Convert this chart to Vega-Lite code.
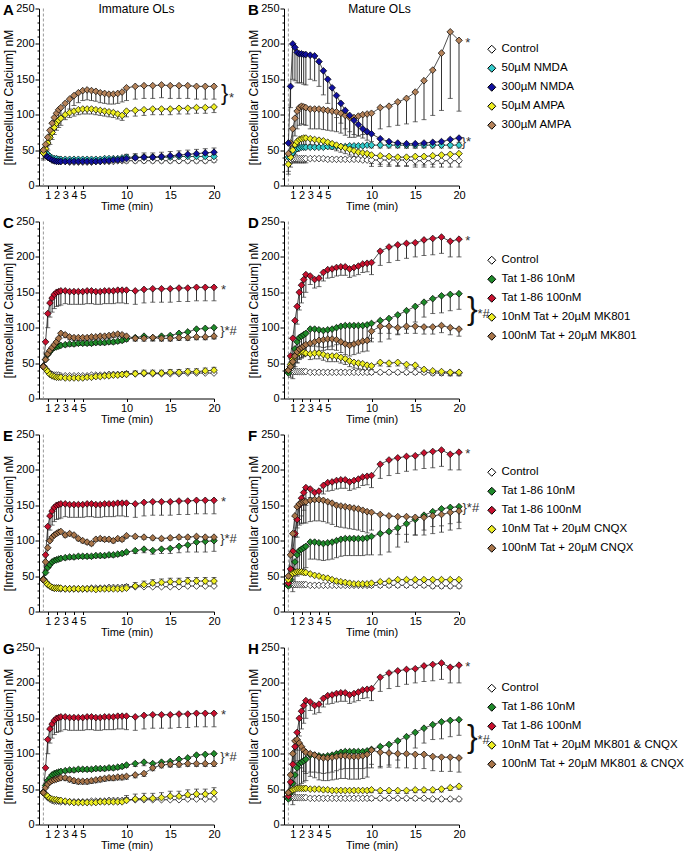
{
"$schema":"https://vega.github.io/schema/vega-lite/v6.json",
"background":"white",
"padding":{"left":2,"top":2.5,"right":5,"bottom":5},
"config":{
 "font":"Liberation Sans",
 "view":{"stroke":null},
 "axis":{"grid":false,"domainColor":"#000","tickColor":"#000","labelColor":"#000","titleColor":"#000","labelFontSize":11,"titleFontSize":12,"titleFontWeight":"normal","labelFont":"Liberation Sans","titleFont":"Liberation Sans","labelOverlap":false,"domainWidth":1,"tickWidth":1},
 "title":{"anchor":"start","frame":"group","fontSize":15,"fontWeight":"bold","color":"#000","dx":-36,"offset":-15,"font":"Liberation Sans"}
},
"datasets":{
"names":[{"s":"c","n":"Control"},{"s":"n1","n":"50µM NMDA"},{"s":"n3","n":"300µM NMDA"},{"s":"a5","n":"50µM AMPA"},{"s":"a3","n":"300µM AMPA"},{"s":"g","n":"Tat 1-86 10nM"},{"s":"r","n":"Tat 1-86 100nM"},{"s":"y2","n":"10nM Tat + 20µM MK801"},{"s":"b2","n":"100nM Tat + 20µM MK801"},{"s":"y3","n":"10nM Tat + 20µM CNQX"},{"s":"b3","n":"100nM Tat + 20µM CNQX"},{"s":"y4","n":"10nM Tat + 20µM MK801 & CNQX"},{"s":"b4","n":"100nM Tat + 20µM MK801 & CNQX"}],
"d":[
{"g":"A","s":"c","t":0.5,"y":48},{"g":"A","s":"c","t":0.75,"y":44},{"g":"A","s":"c","t":1,"y":40},{"g":"A","s":"c","t":1.25,"y":38},{"g":"A","s":"c","t":1.5,"y":36},{"g":"A","s":"c","t":1.75,"y":35},{"g":"A","s":"c","t":2,"y":35},{"g":"A","s":"c","t":2.25,"y":34},{"g":"A","s":"c","t":2.5,"y":34},{"g":"A","s":"c","t":3,"y":34},{"g":"A","s":"c","t":3.5,"y":33},{"g":"A","s":"c","t":4,"y":33},{"g":"A","s":"c","t":4.5,"y":33},{"g":"A","s":"c","t":5,"y":33},{"g":"A","s":"c","t":5.5,"y":33},{"g":"A","s":"c","t":6,"y":33},{"g":"A","s":"c","t":6.5,"y":34},{"g":"A","s":"c","t":7,"y":34},{"g":"A","s":"c","t":7.5,"y":34},{"g":"A","s":"c","t":8,"y":34},{"g":"A","s":"c","t":8.5,"y":34},{"g":"A","s":"c","t":9,"y":35},{"g":"A","s":"c","t":9.5,"y":35},{"g":"A","s":"c","t":10,"y":35,"e":32},{"g":"A","s":"c","t":11,"y":35,"e":32},{"g":"A","s":"c","t":12,"y":35,"e":32},{"g":"A","s":"c","t":13,"y":35,"e":32},{"g":"A","s":"c","t":14,"y":35,"e":32},{"g":"A","s":"c","t":15,"y":35,"e":32},{"g":"A","s":"c","t":16,"y":35,"e":32},{"g":"A","s":"c","t":17,"y":35,"e":32},{"g":"A","s":"c","t":18,"y":35,"e":32},{"g":"A","s":"c","t":19,"y":35,"e":32},{"g":"A","s":"c","t":20,"y":36,"e":33},
{"g":"A","s":"n1","t":0.5,"y":50},{"g":"A","s":"n1","t":0.75,"y":47},{"g":"A","s":"n1","t":1,"y":44},{"g":"A","s":"n1","t":1.25,"y":41},{"g":"A","s":"n1","t":1.5,"y":39},{"g":"A","s":"n1","t":1.75,"y":38},{"g":"A","s":"n1","t":2,"y":38},{"g":"A","s":"n1","t":2.25,"y":37},{"g":"A","s":"n1","t":2.5,"y":37},{"g":"A","s":"n1","t":3,"y":37},{"g":"A","s":"n1","t":3.5,"y":37},{"g":"A","s":"n1","t":4,"y":37},{"g":"A","s":"n1","t":4.5,"y":37},{"g":"A","s":"n1","t":5,"y":37},{"g":"A","s":"n1","t":5.5,"y":37},{"g":"A","s":"n1","t":6,"y":37},{"g":"A","s":"n1","t":6.5,"y":37},{"g":"A","s":"n1","t":7,"y":37},{"g":"A","s":"n1","t":7.5,"y":38},{"g":"A","s":"n1","t":8,"y":38},{"g":"A","s":"n1","t":8.5,"y":38},{"g":"A","s":"n1","t":9,"y":38},{"g":"A","s":"n1","t":9.5,"y":39},{"g":"A","s":"n1","t":10,"y":40,"e":43},{"g":"A","s":"n1","t":11,"y":40,"e":43},{"g":"A","s":"n1","t":12,"y":40,"e":43},{"g":"A","s":"n1","t":13,"y":40,"e":43},{"g":"A","s":"n1","t":14,"y":40,"e":43},{"g":"A","s":"n1","t":15,"y":40,"e":43},{"g":"A","s":"n1","t":16,"y":41,"e":44},{"g":"A","s":"n1","t":17,"y":41,"e":44},{"g":"A","s":"n1","t":18,"y":41,"e":44},{"g":"A","s":"n1","t":19,"y":41,"e":44},{"g":"A","s":"n1","t":20,"y":41,"e":44},
{"g":"A","s":"n3","t":0.5,"y":46},{"g":"A","s":"n3","t":0.75,"y":43},{"g":"A","s":"n3","t":1,"y":40},{"g":"A","s":"n3","t":1.25,"y":38},{"g":"A","s":"n3","t":1.5,"y":36},{"g":"A","s":"n3","t":1.75,"y":35},{"g":"A","s":"n3","t":2,"y":34},{"g":"A","s":"n3","t":2.25,"y":34},{"g":"A","s":"n3","t":2.5,"y":34},{"g":"A","s":"n3","t":3,"y":34,"e":37},{"g":"A","s":"n3","t":3.5,"y":34,"e":37},{"g":"A","s":"n3","t":4,"y":34,"e":37},{"g":"A","s":"n3","t":4.5,"y":34,"e":37},{"g":"A","s":"n3","t":5,"y":34,"e":37},{"g":"A","s":"n3","t":5.5,"y":34,"e":37},{"g":"A","s":"n3","t":6,"y":34,"e":37},{"g":"A","s":"n3","t":6.5,"y":34,"e":37},{"g":"A","s":"n3","t":7,"y":34,"e":37},{"g":"A","s":"n3","t":7.5,"y":35,"e":38},{"g":"A","s":"n3","t":8,"y":35,"e":38},{"g":"A","s":"n3","t":8.5,"y":36,"e":39},{"g":"A","s":"n3","t":9,"y":36,"e":39},{"g":"A","s":"n3","t":9.5,"y":37,"e":40},{"g":"A","s":"n3","t":10,"y":38,"e":44},{"g":"A","s":"n3","t":11,"y":39,"e":45},{"g":"A","s":"n3","t":12,"y":40,"e":46},{"g":"A","s":"n3","t":13,"y":40,"e":46},{"g":"A","s":"n3","t":14,"y":41,"e":47},{"g":"A","s":"n3","t":15,"y":42,"e":48},{"g":"A","s":"n3","t":16,"y":43,"e":49},{"g":"A","s":"n3","t":17,"y":44,"e":50},{"g":"A","s":"n3","t":18,"y":45,"e":51},{"g":"A","s":"n3","t":19,"y":46,"e":52},{"g":"A","s":"n3","t":20,"y":47,"e":53},
{"g":"A","s":"a5","t":0.5,"y":46,"e":36},{"g":"A","s":"a5","t":0.75,"y":52,"e":42},{"g":"A","s":"a5","t":1,"y":60,"e":50},{"g":"A","s":"a5","t":1.25,"y":68,"e":58},{"g":"A","s":"a5","t":1.5,"y":75,"e":65},{"g":"A","s":"a5","t":1.75,"y":82,"e":72},{"g":"A","s":"a5","t":2,"y":88,"e":78},{"g":"A","s":"a5","t":2.25,"y":92,"e":82},{"g":"A","s":"a5","t":2.5,"y":95,"e":85},{"g":"A","s":"a5","t":3,"y":100,"e":93},{"g":"A","s":"a5","t":3.5,"y":103,"e":96},{"g":"A","s":"a5","t":4,"y":105,"e":98},{"g":"A","s":"a5","t":4.5,"y":107,"e":100},{"g":"A","s":"a5","t":5,"y":108,"e":101},{"g":"A","s":"a5","t":5.5,"y":108,"e":101},{"g":"A","s":"a5","t":6,"y":108,"e":101},{"g":"A","s":"a5","t":6.5,"y":107,"e":100},{"g":"A","s":"a5","t":7,"y":106,"e":99},{"g":"A","s":"a5","t":7.5,"y":105,"e":98},{"g":"A","s":"a5","t":8,"y":104,"e":97},{"g":"A","s":"a5","t":8.5,"y":103,"e":96},{"g":"A","s":"a5","t":9,"y":101,"e":94},{"g":"A","s":"a5","t":9.5,"y":99,"e":92},{"g":"A","s":"a5","t":10,"y":105,"e":97},{"g":"A","s":"a5","t":11,"y":106,"e":98},{"g":"A","s":"a5","t":12,"y":107,"e":99},{"g":"A","s":"a5","t":13,"y":108,"e":100},{"g":"A","s":"a5","t":14,"y":108,"e":100},{"g":"A","s":"a5","t":15,"y":108,"e":100},{"g":"A","s":"a5","t":16,"y":109,"e":101},{"g":"A","s":"a5","t":17,"y":109,"e":101},{"g":"A","s":"a5","t":18,"y":110,"e":102},{"g":"A","s":"a5","t":19,"y":110,"e":102},{"g":"A","s":"a5","t":20,"y":111,"e":103},
{"g":"A","s":"a3","t":0.5,"y":50,"e":38},{"g":"A","s":"a3","t":0.75,"y":58,"e":46},{"g":"A","s":"a3","t":1,"y":68,"e":56},{"g":"A","s":"a3","t":1.25,"y":78,"e":66},{"g":"A","s":"a3","t":1.5,"y":88,"e":76},{"g":"A","s":"a3","t":1.75,"y":96,"e":84},{"g":"A","s":"a3","t":2,"y":102,"e":90},{"g":"A","s":"a3","t":2.25,"y":107,"e":95},{"g":"A","s":"a3","t":2.5,"y":110,"e":98},{"g":"A","s":"a3","t":3,"y":116,"e":102},{"g":"A","s":"a3","t":3.5,"y":122,"e":108},{"g":"A","s":"a3","t":4,"y":127,"e":113},{"g":"A","s":"a3","t":4.5,"y":131,"e":117},{"g":"A","s":"a3","t":5,"y":134,"e":120},{"g":"A","s":"a3","t":5.5,"y":135,"e":121},{"g":"A","s":"a3","t":6,"y":134,"e":120},{"g":"A","s":"a3","t":6.5,"y":133,"e":119},{"g":"A","s":"a3","t":7,"y":131,"e":117},{"g":"A","s":"a3","t":7.5,"y":130,"e":116},{"g":"A","s":"a3","t":8,"y":129,"e":115},{"g":"A","s":"a3","t":8.5,"y":129,"e":115},{"g":"A","s":"a3","t":9,"y":130,"e":116},{"g":"A","s":"a3","t":9.5,"y":132,"e":118},{"g":"A","s":"a3","t":10,"y":138,"e":120},{"g":"A","s":"a3","t":11,"y":140,"e":122},{"g":"A","s":"a3","t":12,"y":141,"e":123},{"g":"A","s":"a3","t":13,"y":141,"e":123},{"g":"A","s":"a3","t":14,"y":142,"e":124},{"g":"A","s":"a3","t":15,"y":141,"e":123},{"g":"A","s":"a3","t":16,"y":141,"e":123},{"g":"A","s":"a3","t":17,"y":141,"e":123},{"g":"A","s":"a3","t":18,"y":140,"e":122},{"g":"A","s":"a3","t":19,"y":140,"e":122},{"g":"A","s":"a3","t":20,"y":140,"e":122},
{"g":"B","s":"c","t":0.5,"y":36,"e":30},{"g":"B","s":"c","t":0.75,"y":37,"e":31},{"g":"B","s":"c","t":1,"y":38,"e":32},{"g":"B","s":"c","t":1.25,"y":38,"e":32},{"g":"B","s":"c","t":1.5,"y":38,"e":32},{"g":"B","s":"c","t":1.75,"y":38,"e":32},{"g":"B","s":"c","t":2,"y":38,"e":32},{"g":"B","s":"c","t":2.25,"y":38,"e":32},{"g":"B","s":"c","t":2.5,"y":38,"e":32},{"g":"B","s":"c","t":3,"y":38},{"g":"B","s":"c","t":3.5,"y":38},{"g":"B","s":"c","t":4,"y":38},{"g":"B","s":"c","t":4.5,"y":38},{"g":"B","s":"c","t":5,"y":37},{"g":"B","s":"c","t":5.5,"y":37},{"g":"B","s":"c","t":6,"y":37},{"g":"B","s":"c","t":6.5,"y":37},{"g":"B","s":"c","t":7,"y":37},{"g":"B","s":"c","t":7.5,"y":37},{"g":"B","s":"c","t":8,"y":37},{"g":"B","s":"c","t":8.5,"y":37},{"g":"B","s":"c","t":9,"y":36},{"g":"B","s":"c","t":9.5,"y":36},{"g":"B","s":"c","t":10,"y":36,"e":27},{"g":"B","s":"c","t":11,"y":36,"e":27},{"g":"B","s":"c","t":12,"y":36,"e":27},{"g":"B","s":"c","t":13,"y":36,"e":27},{"g":"B","s":"c","t":14,"y":36,"e":27},{"g":"B","s":"c","t":15,"y":35,"e":26},{"g":"B","s":"c","t":16,"y":35,"e":26},{"g":"B","s":"c","t":17,"y":35,"e":26},{"g":"B","s":"c","t":18,"y":35,"e":26},{"g":"B","s":"c","t":19,"y":35,"e":26},{"g":"B","s":"c","t":20,"y":35,"e":26},
{"g":"B","s":"n1","t":0.5,"y":40},{"g":"B","s":"n1","t":0.75,"y":42},{"g":"B","s":"n1","t":1,"y":46},{"g":"B","s":"n1","t":1.25,"y":50},{"g":"B","s":"n1","t":1.5,"y":52},{"g":"B","s":"n1","t":1.75,"y":53},{"g":"B","s":"n1","t":2,"y":54},{"g":"B","s":"n1","t":2.25,"y":54},{"g":"B","s":"n1","t":2.5,"y":54},{"g":"B","s":"n1","t":3,"y":54},{"g":"B","s":"n1","t":3.5,"y":54},{"g":"B","s":"n1","t":4,"y":54},{"g":"B","s":"n1","t":4.5,"y":54},{"g":"B","s":"n1","t":5,"y":55},{"g":"B","s":"n1","t":5.5,"y":55},{"g":"B","s":"n1","t":6,"y":55},{"g":"B","s":"n1","t":6.5,"y":55},{"g":"B","s":"n1","t":7,"y":55},{"g":"B","s":"n1","t":7.5,"y":56},{"g":"B","s":"n1","t":8,"y":56},{"g":"B","s":"n1","t":8.5,"y":56},{"g":"B","s":"n1","t":9,"y":56},{"g":"B","s":"n1","t":9.5,"y":57},{"g":"B","s":"n1","t":10,"y":57,"e":53},{"g":"B","s":"n1","t":11,"y":57,"e":53},{"g":"B","s":"n1","t":12,"y":57,"e":53},{"g":"B","s":"n1","t":13,"y":57,"e":53},{"g":"B","s":"n1","t":14,"y":57,"e":53},{"g":"B","s":"n1","t":15,"y":57,"e":53},{"g":"B","s":"n1","t":16,"y":57,"e":53},{"g":"B","s":"n1","t":17,"y":57,"e":53},{"g":"B","s":"n1","t":18,"y":57,"e":53},{"g":"B","s":"n1","t":19,"y":57,"e":53},{"g":"B","s":"n1","t":20,"y":57,"e":53},
{"g":"B","s":"a5","t":0.5,"y":30,"e":16},{"g":"B","s":"a5","t":0.75,"y":40,"e":26},{"g":"B","s":"a5","t":1,"y":50,"e":36},{"g":"B","s":"a5","t":1.25,"y":58,"e":44},{"g":"B","s":"a5","t":1.5,"y":62,"e":48},{"g":"B","s":"a5","t":1.75,"y":65,"e":51},{"g":"B","s":"a5","t":2,"y":66,"e":52},{"g":"B","s":"a5","t":2.25,"y":67,"e":53},{"g":"B","s":"a5","t":2.5,"y":67,"e":53},{"g":"B","s":"a5","t":3,"y":66,"e":58},{"g":"B","s":"a5","t":3.5,"y":65,"e":57},{"g":"B","s":"a5","t":4,"y":64,"e":56},{"g":"B","s":"a5","t":4.5,"y":63,"e":55},{"g":"B","s":"a5","t":5,"y":61,"e":53},{"g":"B","s":"a5","t":5.5,"y":59,"e":51},{"g":"B","s":"a5","t":6,"y":57,"e":49},{"g":"B","s":"a5","t":6.5,"y":55,"e":47},{"g":"B","s":"a5","t":7,"y":53,"e":45},{"g":"B","s":"a5","t":7.5,"y":51,"e":43},{"g":"B","s":"a5","t":8,"y":49,"e":41},{"g":"B","s":"a5","t":8.5,"y":47,"e":39},{"g":"B","s":"a5","t":9,"y":46,"e":38},{"g":"B","s":"a5","t":9.5,"y":45,"e":37},{"g":"B","s":"a5","t":10,"y":43,"e":31},{"g":"B","s":"a5","t":11,"y":42,"e":30},{"g":"B","s":"a5","t":12,"y":41,"e":29},{"g":"B","s":"a5","t":13,"y":40,"e":28},{"g":"B","s":"a5","t":14,"y":40,"e":28},{"g":"B","s":"a5","t":15,"y":41,"e":29},{"g":"B","s":"a5","t":16,"y":41,"e":29},{"g":"B","s":"a5","t":17,"y":42,"e":30},{"g":"B","s":"a5","t":18,"y":43,"e":31},{"g":"B","s":"a5","t":19,"y":44,"e":32},{"g":"B","s":"a5","t":20,"y":45,"e":33},
{"g":"B","s":"a3","t":0.5,"y":45,"e":20},{"g":"B","s":"a3","t":0.75,"y":60,"e":35},{"g":"B","s":"a3","t":1,"y":80,"e":55},{"g":"B","s":"a3","t":1.25,"y":95,"e":70},{"g":"B","s":"a3","t":1.5,"y":105,"e":80},{"g":"B","s":"a3","t":1.75,"y":110,"e":85},{"g":"B","s":"a3","t":2,"y":112,"e":87},{"g":"B","s":"a3","t":2.25,"y":111,"e":86},{"g":"B","s":"a3","t":2.5,"y":110,"e":85},{"g":"B","s":"a3","t":3,"y":108,"e":80},{"g":"B","s":"a3","t":3.5,"y":108,"e":80},{"g":"B","s":"a3","t":4,"y":108,"e":80},{"g":"B","s":"a3","t":4.5,"y":107,"e":79},{"g":"B","s":"a3","t":5,"y":106,"e":78},{"g":"B","s":"a3","t":5.5,"y":105,"e":77},{"g":"B","s":"a3","t":6,"y":104,"e":76},{"g":"B","s":"a3","t":6.5,"y":102,"e":74},{"g":"B","s":"a3","t":7,"y":99,"e":71},{"g":"B","s":"a3","t":7.5,"y":96,"e":68},{"g":"B","s":"a3","t":8,"y":96,"e":68},{"g":"B","s":"a3","t":8.5,"y":98,"e":70},{"g":"B","s":"a3","t":9,"y":100,"e":72},{"g":"B","s":"a3","t":9.5,"y":101,"e":73},{"g":"B","s":"a3","t":10,"y":102,"e":72},{"g":"B","s":"a3","t":11,"y":110,"e":80},{"g":"B","s":"a3","t":12,"y":112,"e":83},{"g":"B","s":"a3","t":13,"y":118,"e":85},{"g":"B","s":"a3","t":14,"y":123,"e":87},{"g":"B","s":"a3","t":15,"y":132,"e":90},{"g":"B","s":"a3","t":16,"y":148,"e":93},{"g":"B","s":"a3","t":17,"y":163,"e":99},{"g":"B","s":"a3","t":18,"y":187,"e":106},{"g":"B","s":"a3","t":19,"y":217,"e":123},{"g":"B","s":"a3","t":20,"y":205,"e":105},
{"g":"B","s":"n3","t":0.5,"y":60},{"g":"B","s":"n3","t":0.75,"y":140,"e":110},{"g":"B","s":"n3","t":1,"y":200,"e":150},{"g":"B","s":"n3","t":1.25,"y":195,"e":148},{"g":"B","s":"n3","t":1.5,"y":188,"e":145},{"g":"B","s":"n3","t":1.75,"y":186,"e":145},{"g":"B","s":"n3","t":2,"y":186,"e":145},{"g":"B","s":"n3","t":2.25,"y":185,"e":143},{"g":"B","s":"n3","t":2.5,"y":185,"e":142},{"g":"B","s":"n3","t":3,"y":184,"e":150},{"g":"B","s":"n3","t":3.5,"y":183,"e":148},{"g":"B","s":"n3","t":4,"y":175,"e":140},{"g":"B","s":"n3","t":4.5,"y":162,"e":128},{"g":"B","s":"n3","t":5,"y":150,"e":116},{"g":"B","s":"n3","t":5.5,"y":138,"e":105},{"g":"B","s":"n3","t":6,"y":127,"e":96},{"g":"B","s":"n3","t":6.5,"y":116,"e":88},{"g":"B","s":"n3","t":7,"y":106,"e":80},{"g":"B","s":"n3","t":7.5,"y":99,"e":76},{"g":"B","s":"n3","t":8,"y":92,"e":72},{"g":"B","s":"n3","t":8.5,"y":86,"e":70},{"g":"B","s":"n3","t":9,"y":80,"e":67},{"g":"B","s":"n3","t":9.5,"y":76,"e":64},{"g":"B","s":"n3","t":10,"y":73,"e":62},{"g":"B","s":"n3","t":11,"y":66,"e":60},{"g":"B","s":"n3","t":12,"y":62,"e":56},{"g":"B","s":"n3","t":13,"y":60,"e":54},{"g":"B","s":"n3","t":14,"y":59,"e":53},{"g":"B","s":"n3","t":15,"y":59,"e":53},{"g":"B","s":"n3","t":16,"y":60,"e":54},{"g":"B","s":"n3","t":17,"y":61,"e":55},{"g":"B","s":"n3","t":18,"y":62,"e":56},{"g":"B","s":"n3","t":19,"y":65,"e":59},{"g":"B","s":"n3","t":20,"y":67,"e":61},
{"g":"L","s":"c","t":0.5,"y":46},{"g":"L","s":"c","t":0.75,"y":42},{"g":"L","s":"c","t":1,"y":38},{"g":"L","s":"c","t":1.25,"y":36},{"g":"L","s":"c","t":1.5,"y":34},{"g":"L","s":"c","t":1.75,"y":33},{"g":"L","s":"c","t":2,"y":33},{"g":"L","s":"c","t":2.25,"y":33},{"g":"L","s":"c","t":2.5,"y":32},{"g":"L","s":"c","t":3,"y":32},{"g":"L","s":"c","t":3.5,"y":32},{"g":"L","s":"c","t":4,"y":32},{"g":"L","s":"c","t":4.5,"y":32},{"g":"L","s":"c","t":5,"y":32},{"g":"L","s":"c","t":5.5,"y":32},{"g":"L","s":"c","t":6,"y":33},{"g":"L","s":"c","t":6.5,"y":33},{"g":"L","s":"c","t":7,"y":33},{"g":"L","s":"c","t":7.5,"y":33},{"g":"L","s":"c","t":8,"y":34},{"g":"L","s":"c","t":8.5,"y":34},{"g":"L","s":"c","t":9,"y":34},{"g":"L","s":"c","t":9.5,"y":34},{"g":"L","s":"c","t":10,"y":35,"e":38},{"g":"L","s":"c","t":11,"y":35,"e":38},{"g":"L","s":"c","t":12,"y":35,"e":38},{"g":"L","s":"c","t":13,"y":35,"e":38},{"g":"L","s":"c","t":14,"y":35,"e":38},{"g":"L","s":"c","t":15,"y":35,"e":38},{"g":"L","s":"c","t":16,"y":35,"e":38},{"g":"L","s":"c","t":17,"y":36,"e":39},{"g":"L","s":"c","t":18,"y":36,"e":39},{"g":"L","s":"c","t":19,"y":36,"e":39},{"g":"L","s":"c","t":20,"y":36,"e":39},
{"g":"L","s":"g","t":0.5,"y":45},{"g":"L","s":"g","t":0.75,"y":55},{"g":"L","s":"g","t":1,"y":62},{"g":"L","s":"g","t":1.25,"y":66},{"g":"L","s":"g","t":1.5,"y":70},{"g":"L","s":"g","t":1.75,"y":72},{"g":"L","s":"g","t":2,"y":73},{"g":"L","s":"g","t":2.25,"y":74},{"g":"L","s":"g","t":2.5,"y":75},{"g":"L","s":"g","t":3,"y":76,"e":73},{"g":"L","s":"g","t":3.5,"y":77,"e":74},{"g":"L","s":"g","t":4,"y":77,"e":74},{"g":"L","s":"g","t":4.5,"y":78,"e":75},{"g":"L","s":"g","t":5,"y":78,"e":75},{"g":"L","s":"g","t":5.5,"y":78,"e":75},{"g":"L","s":"g","t":6,"y":78,"e":75},{"g":"L","s":"g","t":6.5,"y":79,"e":76},{"g":"L","s":"g","t":7,"y":79,"e":76},{"g":"L","s":"g","t":7.5,"y":79,"e":76},{"g":"L","s":"g","t":8,"y":80,"e":77},{"g":"L","s":"g","t":8.5,"y":80,"e":77},{"g":"L","s":"g","t":9,"y":81,"e":78},{"g":"L","s":"g","t":9.5,"y":82,"e":79},{"g":"L","s":"g","t":10,"y":84,"e":81},{"g":"L","s":"g","t":11,"y":86,"e":82},{"g":"L","s":"g","t":12,"y":88,"e":83},{"g":"L","s":"g","t":13,"y":86,"e":81},{"g":"L","s":"g","t":14,"y":88,"e":82},{"g":"L","s":"g","t":15,"y":89,"e":82},{"g":"L","s":"g","t":16,"y":92,"e":83},{"g":"L","s":"g","t":17,"y":94,"e":84},{"g":"L","s":"g","t":18,"y":98,"e":84},{"g":"L","s":"g","t":19,"y":99,"e":84},{"g":"L","s":"g","t":20,"y":100,"e":85},
{"g":"L","s":"r","t":0.5,"y":45},{"g":"L","s":"r","t":0.75,"y":80},{"g":"L","s":"r","t":1,"y":120,"e":100},{"g":"L","s":"r","t":1.25,"y":135,"e":115},{"g":"L","s":"r","t":1.5,"y":142,"e":122},{"g":"L","s":"r","t":1.75,"y":147,"e":127},{"g":"L","s":"r","t":2,"y":150,"e":130},{"g":"L","s":"r","t":2.25,"y":151,"e":131},{"g":"L","s":"r","t":2.5,"y":152,"e":132},{"g":"L","s":"r","t":3,"y":152,"e":134},{"g":"L","s":"r","t":3.5,"y":151,"e":133},{"g":"L","s":"r","t":4,"y":151,"e":133},{"g":"L","s":"r","t":4.5,"y":151,"e":133},{"g":"L","s":"r","t":5,"y":151,"e":133},{"g":"L","s":"r","t":5.5,"y":152,"e":134},{"g":"L","s":"r","t":6,"y":152,"e":134},{"g":"L","s":"r","t":6.5,"y":151,"e":133},{"g":"L","s":"r","t":7,"y":151,"e":133},{"g":"L","s":"r","t":7.5,"y":152,"e":134},{"g":"L","s":"r","t":8,"y":152,"e":134},{"g":"L","s":"r","t":8.5,"y":152,"e":134},{"g":"L","s":"r","t":9,"y":153,"e":135},{"g":"L","s":"r","t":9.5,"y":153,"e":135},{"g":"L","s":"r","t":10,"y":153,"e":134},{"g":"L","s":"r","t":11,"y":152,"e":133},{"g":"L","s":"r","t":12,"y":154,"e":135},{"g":"L","s":"r","t":13,"y":155,"e":136},{"g":"L","s":"r","t":14,"y":155,"e":136},{"g":"L","s":"r","t":15,"y":155,"e":136},{"g":"L","s":"r","t":16,"y":156,"e":137},{"g":"L","s":"r","t":17,"y":156,"e":137},{"g":"L","s":"r","t":18,"y":157,"e":138},{"g":"L","s":"r","t":19,"y":157,"e":138},{"g":"L","s":"r","t":20,"y":157,"e":138},
{"g":"R","s":"c","t":0.5,"y":38},{"g":"R","s":"c","t":0.75,"y":38},{"g":"R","s":"c","t":1,"y":38},{"g":"R","s":"c","t":1.25,"y":38},{"g":"R","s":"c","t":1.5,"y":38},{"g":"R","s":"c","t":1.75,"y":38},{"g":"R","s":"c","t":2,"y":38},{"g":"R","s":"c","t":2.25,"y":38},{"g":"R","s":"c","t":2.5,"y":38},{"g":"R","s":"c","t":3,"y":37},{"g":"R","s":"c","t":3.5,"y":37},{"g":"R","s":"c","t":4,"y":37},{"g":"R","s":"c","t":4.5,"y":37},{"g":"R","s":"c","t":5,"y":37},{"g":"R","s":"c","t":5.5,"y":37},{"g":"R","s":"c","t":6,"y":37},{"g":"R","s":"c","t":6.5,"y":37},{"g":"R","s":"c","t":7,"y":37},{"g":"R","s":"c","t":7.5,"y":37},{"g":"R","s":"c","t":8,"y":37},{"g":"R","s":"c","t":8.5,"y":37},{"g":"R","s":"c","t":9,"y":37},{"g":"R","s":"c","t":9.5,"y":37},{"g":"R","s":"c","t":10,"y":37,"e":34},{"g":"R","s":"c","t":11,"y":37,"e":34},{"g":"R","s":"c","t":12,"y":37,"e":34},{"g":"R","s":"c","t":13,"y":37,"e":34},{"g":"R","s":"c","t":14,"y":37,"e":34},{"g":"R","s":"c","t":15,"y":37,"e":34},{"g":"R","s":"c","t":16,"y":37,"e":34},{"g":"R","s":"c","t":17,"y":36,"e":33},{"g":"R","s":"c","t":18,"y":36,"e":33},{"g":"R","s":"c","t":19,"y":36,"e":33},{"g":"R","s":"c","t":20,"y":36,"e":33},
{"g":"R","s":"g","t":0.5,"y":36},{"g":"R","s":"g","t":0.75,"y":45},{"g":"R","s":"g","t":1,"y":58,"e":28},{"g":"R","s":"g","t":1.25,"y":70,"e":40},{"g":"R","s":"g","t":1.5,"y":80,"e":50},{"g":"R","s":"g","t":1.75,"y":86,"e":56},{"g":"R","s":"g","t":2,"y":88,"e":58},{"g":"R","s":"g","t":2.25,"y":90,"e":60},{"g":"R","s":"g","t":2.5,"y":92,"e":62},{"g":"R","s":"g","t":3,"y":98,"e":74},{"g":"R","s":"g","t":3.5,"y":98,"e":74},{"g":"R","s":"g","t":4,"y":97,"e":73},{"g":"R","s":"g","t":4.5,"y":96,"e":72},{"g":"R","s":"g","t":5,"y":97,"e":73},{"g":"R","s":"g","t":5.5,"y":98,"e":74},{"g":"R","s":"g","t":6,"y":100,"e":76},{"g":"R","s":"g","t":6.5,"y":102,"e":78},{"g":"R","s":"g","t":7,"y":103,"e":79},{"g":"R","s":"g","t":7.5,"y":103,"e":79},{"g":"R","s":"g","t":8,"y":103,"e":79},{"g":"R","s":"g","t":8.5,"y":103,"e":79},{"g":"R","s":"g","t":9,"y":103,"e":79},{"g":"R","s":"g","t":9.5,"y":104,"e":80},{"g":"R","s":"g","t":10,"y":106,"e":80},{"g":"R","s":"g","t":11,"y":110,"e":80},{"g":"R","s":"g","t":12,"y":113,"e":84},{"g":"R","s":"g","t":13,"y":118,"e":91},{"g":"R","s":"g","t":14,"y":124,"e":98},{"g":"R","s":"g","t":15,"y":130,"e":108},{"g":"R","s":"g","t":16,"y":136,"e":115},{"g":"R","s":"g","t":17,"y":141,"e":120},{"g":"R","s":"g","t":18,"y":145,"e":121},{"g":"R","s":"g","t":19,"y":147,"e":124},{"g":"R","s":"g","t":20,"y":148,"e":126},
{"g":"R","s":"r","t":0.5,"y":40},{"g":"R","s":"r","t":0.75,"y":60,"e":35},{"g":"R","s":"r","t":1,"y":85,"e":60},{"g":"R","s":"r","t":1.25,"y":110,"e":85},{"g":"R","s":"r","t":1.5,"y":130,"e":105},{"g":"R","s":"r","t":1.75,"y":150,"e":125},{"g":"R","s":"r","t":2,"y":160,"e":135},{"g":"R","s":"r","t":2.25,"y":168,"e":143},{"g":"R","s":"r","t":2.5,"y":175,"e":150},{"g":"R","s":"r","t":3,"y":173,"e":161},{"g":"R","s":"r","t":3.5,"y":168,"e":156},{"g":"R","s":"r","t":4,"y":170,"e":158},{"g":"R","s":"r","t":4.5,"y":178,"e":166},{"g":"R","s":"r","t":5,"y":182,"e":170},{"g":"R","s":"r","t":5.5,"y":183,"e":171},{"g":"R","s":"r","t":6,"y":185,"e":173},{"g":"R","s":"r","t":6.5,"y":186,"e":174},{"g":"R","s":"r","t":7,"y":186,"e":174},{"g":"R","s":"r","t":7.5,"y":183,"e":171},{"g":"R","s":"r","t":8,"y":185,"e":173},{"g":"R","s":"r","t":8.5,"y":187,"e":175},{"g":"R","s":"r","t":9,"y":190,"e":178},{"g":"R","s":"r","t":9.5,"y":191,"e":179},{"g":"R","s":"r","t":10,"y":192,"e":175},{"g":"R","s":"r","t":11,"y":208,"e":188},{"g":"R","s":"r","t":12,"y":214,"e":192},{"g":"R","s":"r","t":13,"y":217,"e":195},{"g":"R","s":"r","t":14,"y":219,"e":198},{"g":"R","s":"r","t":15,"y":220,"e":200},{"g":"R","s":"r","t":16,"y":224,"e":202},{"g":"R","s":"r","t":17,"y":226,"e":203},{"g":"R","s":"r","t":18,"y":228,"e":205},{"g":"R","s":"r","t":19,"y":222,"e":200},{"g":"R","s":"r","t":20,"y":225,"e":200},
{"g":"C","s":"y2","t":0.5,"y":45},{"g":"C","s":"y2","t":0.75,"y":42},{"g":"C","s":"y2","t":1,"y":38},{"g":"C","s":"y2","t":1.25,"y":34},{"g":"C","s":"y2","t":1.5,"y":32},{"g":"C","s":"y2","t":1.75,"y":31},{"g":"C","s":"y2","t":2,"y":30},{"g":"C","s":"y2","t":2.25,"y":30},{"g":"C","s":"y2","t":2.5,"y":30},{"g":"C","s":"y2","t":3,"y":29},{"g":"C","s":"y2","t":3.5,"y":29},{"g":"C","s":"y2","t":4,"y":29},{"g":"C","s":"y2","t":4.5,"y":29},{"g":"C","s":"y2","t":5,"y":29},{"g":"C","s":"y2","t":5.5,"y":30},{"g":"C","s":"y2","t":6,"y":30},{"g":"C","s":"y2","t":6.5,"y":31},{"g":"C","s":"y2","t":7,"y":31},{"g":"C","s":"y2","t":7.5,"y":32},{"g":"C","s":"y2","t":8,"y":32},{"g":"C","s":"y2","t":8.5,"y":33},{"g":"C","s":"y2","t":9,"y":33},{"g":"C","s":"y2","t":9.5,"y":34},{"g":"C","s":"y2","t":10,"y":34,"e":38},{"g":"C","s":"y2","t":11,"y":35,"e":39},{"g":"C","s":"y2","t":12,"y":36,"e":40},{"g":"C","s":"y2","t":13,"y":36,"e":40},{"g":"C","s":"y2","t":14,"y":36,"e":40},{"g":"C","s":"y2","t":15,"y":37,"e":41},{"g":"C","s":"y2","t":16,"y":37,"e":41},{"g":"C","s":"y2","t":17,"y":38,"e":42},{"g":"C","s":"y2","t":18,"y":38,"e":42},{"g":"C","s":"y2","t":19,"y":39,"e":43},{"g":"C","s":"y2","t":20,"y":40,"e":44},
{"g":"C","s":"b2","t":0.5,"y":45},{"g":"C","s":"b2","t":0.75,"y":55},{"g":"C","s":"b2","t":1,"y":63},{"g":"C","s":"b2","t":1.25,"y":68},{"g":"C","s":"b2","t":1.5,"y":72},{"g":"C","s":"b2","t":1.75,"y":76},{"g":"C","s":"b2","t":2,"y":80},{"g":"C","s":"b2","t":2.25,"y":85},{"g":"C","s":"b2","t":2.5,"y":92},{"g":"C","s":"b2","t":3,"y":90,"e":86},{"g":"C","s":"b2","t":3.5,"y":87,"e":83},{"g":"C","s":"b2","t":4,"y":86,"e":82},{"g":"C","s":"b2","t":4.5,"y":86,"e":82},{"g":"C","s":"b2","t":5,"y":86,"e":82},{"g":"C","s":"b2","t":5.5,"y":86,"e":82},{"g":"C","s":"b2","t":6,"y":87,"e":83},{"g":"C","s":"b2","t":6.5,"y":87,"e":83},{"g":"C","s":"b2","t":7,"y":88,"e":84},{"g":"C","s":"b2","t":7.5,"y":88,"e":84},{"g":"C","s":"b2","t":8,"y":89,"e":85},{"g":"C","s":"b2","t":8.5,"y":90,"e":86},{"g":"C","s":"b2","t":9,"y":91,"e":87},{"g":"C","s":"b2","t":9.5,"y":90,"e":86},{"g":"C","s":"b2","t":10,"y":88,"e":84},{"g":"C","s":"b2","t":11,"y":85,"e":81},{"g":"C","s":"b2","t":12,"y":85,"e":81},{"g":"C","s":"b2","t":13,"y":86,"e":82},{"g":"C","s":"b2","t":14,"y":85,"e":81},{"g":"C","s":"b2","t":15,"y":85,"e":81},{"g":"C","s":"b2","t":16,"y":86,"e":82},{"g":"C","s":"b2","t":17,"y":86,"e":82},{"g":"C","s":"b2","t":18,"y":87,"e":83},{"g":"C","s":"b2","t":19,"y":87,"e":83},{"g":"C","s":"b2","t":20,"y":88,"e":84},
{"g":"D","s":"y2","t":0.5,"y":40},{"g":"D","s":"y2","t":0.75,"y":48},{"g":"D","s":"y2","t":1,"y":55},{"g":"D","s":"y2","t":1.25,"y":60},{"g":"D","s":"y2","t":1.5,"y":63},{"g":"D","s":"y2","t":1.75,"y":65},{"g":"D","s":"y2","t":2,"y":66},{"g":"D","s":"y2","t":2.25,"y":65},{"g":"D","s":"y2","t":2.5,"y":64},{"g":"D","s":"y2","t":3,"y":63,"e":55},{"g":"D","s":"y2","t":3.5,"y":64,"e":56},{"g":"D","s":"y2","t":4,"y":64,"e":56},{"g":"D","s":"y2","t":4.5,"y":62,"e":54},{"g":"D","s":"y2","t":5,"y":60,"e":52},{"g":"D","s":"y2","t":5.5,"y":60,"e":52},{"g":"D","s":"y2","t":6,"y":60,"e":52},{"g":"D","s":"y2","t":6.5,"y":58,"e":50},{"g":"D","s":"y2","t":7,"y":56,"e":48},{"g":"D","s":"y2","t":7.5,"y":53,"e":45},{"g":"D","s":"y2","t":8,"y":51,"e":43},{"g":"D","s":"y2","t":8.5,"y":50,"e":42},{"g":"D","s":"y2","t":9,"y":49,"e":41},{"g":"D","s":"y2","t":9.5,"y":47,"e":39},{"g":"D","s":"y2","t":10,"y":46,"e":41},{"g":"D","s":"y2","t":11,"y":51,"e":46},{"g":"D","s":"y2","t":12,"y":50,"e":45},{"g":"D","s":"y2","t":13,"y":51,"e":46},{"g":"D","s":"y2","t":14,"y":48,"e":43},{"g":"D","s":"y2","t":15,"y":47,"e":42},{"g":"D","s":"y2","t":16,"y":41,"e":36},{"g":"D","s":"y2","t":17,"y":39,"e":34},{"g":"D","s":"y2","t":18,"y":38,"e":33},{"g":"D","s":"y2","t":19,"y":37,"e":32},{"g":"D","s":"y2","t":20,"y":37,"e":32},
{"g":"D","s":"b2","t":0.5,"y":40},{"g":"D","s":"b2","t":0.75,"y":45,"e":30},{"g":"D","s":"b2","t":1,"y":52,"e":37},{"g":"D","s":"b2","t":1.25,"y":60,"e":45},{"g":"D","s":"b2","t":1.5,"y":66,"e":51},{"g":"D","s":"b2","t":1.75,"y":70,"e":55},{"g":"D","s":"b2","t":2,"y":72,"e":57},{"g":"D","s":"b2","t":2.25,"y":74,"e":59},{"g":"D","s":"b2","t":2.5,"y":76,"e":61},{"g":"D","s":"b2","t":3,"y":78,"e":63},{"g":"D","s":"b2","t":3.5,"y":80,"e":65},{"g":"D","s":"b2","t":4,"y":82,"e":67},{"g":"D","s":"b2","t":4.5,"y":83,"e":68},{"g":"D","s":"b2","t":5,"y":84,"e":69},{"g":"D","s":"b2","t":5.5,"y":84,"e":69},{"g":"D","s":"b2","t":6,"y":83,"e":68},{"g":"D","s":"b2","t":6.5,"y":80,"e":65},{"g":"D","s":"b2","t":7,"y":77,"e":62},{"g":"D","s":"b2","t":7.5,"y":75,"e":60},{"g":"D","s":"b2","t":8,"y":77,"e":62},{"g":"D","s":"b2","t":8.5,"y":79,"e":64},{"g":"D","s":"b2","t":9,"y":81,"e":66},{"g":"D","s":"b2","t":9.5,"y":82,"e":67},{"g":"D","s":"b2","t":10,"y":95,"e":85},{"g":"D","s":"b2","t":11,"y":102,"e":92},{"g":"D","s":"b2","t":12,"y":102,"e":92},{"g":"D","s":"b2","t":13,"y":100,"e":90},{"g":"D","s":"b2","t":14,"y":102,"e":92},{"g":"D","s":"b2","t":15,"y":102,"e":92},{"g":"D","s":"b2","t":16,"y":101,"e":91},{"g":"D","s":"b2","t":17,"y":101,"e":91},{"g":"D","s":"b2","t":18,"y":103,"e":93},{"g":"D","s":"b2","t":19,"y":100,"e":90},{"g":"D","s":"b2","t":20,"y":98,"e":88},
{"g":"E","s":"y3","t":0.5,"y":45},{"g":"E","s":"y3","t":0.75,"y":42},{"g":"E","s":"y3","t":1,"y":38},{"g":"E","s":"y3","t":1.25,"y":36},{"g":"E","s":"y3","t":1.5,"y":34},{"g":"E","s":"y3","t":1.75,"y":33},{"g":"E","s":"y3","t":2,"y":33},{"g":"E","s":"y3","t":2.25,"y":33},{"g":"E","s":"y3","t":2.5,"y":33},{"g":"E","s":"y3","t":3,"y":32},{"g":"E","s":"y3","t":3.5,"y":32},{"g":"E","s":"y3","t":4,"y":32},{"g":"E","s":"y3","t":4.5,"y":32},{"g":"E","s":"y3","t":5,"y":32},{"g":"E","s":"y3","t":5.5,"y":32},{"g":"E","s":"y3","t":6,"y":32},{"g":"E","s":"y3","t":6.5,"y":31},{"g":"E","s":"y3","t":7,"y":32},{"g":"E","s":"y3","t":7.5,"y":32},{"g":"E","s":"y3","t":8,"y":32},{"g":"E","s":"y3","t":8.5,"y":32},{"g":"E","s":"y3","t":9,"y":32},{"g":"E","s":"y3","t":9.5,"y":32},{"g":"E","s":"y3","t":10,"y":33,"e":38},{"g":"E","s":"y3","t":11,"y":36,"e":41},{"g":"E","s":"y3","t":12,"y":38,"e":43},{"g":"E","s":"y3","t":13,"y":40,"e":45},{"g":"E","s":"y3","t":14,"y":41,"e":46},{"g":"E","s":"y3","t":15,"y":42,"e":47},{"g":"E","s":"y3","t":16,"y":42,"e":47},{"g":"E","s":"y3","t":17,"y":43,"e":48},{"g":"E","s":"y3","t":18,"y":43,"e":48},{"g":"E","s":"y3","t":19,"y":43,"e":48},{"g":"E","s":"y3","t":20,"y":43,"e":48},
{"g":"E","s":"b3","t":0.5,"y":45},{"g":"E","s":"b3","t":0.75,"y":70},{"g":"E","s":"b3","t":1,"y":90},{"g":"E","s":"b3","t":1.25,"y":100},{"g":"E","s":"b3","t":1.5,"y":105},{"g":"E","s":"b3","t":1.75,"y":108},{"g":"E","s":"b3","t":2,"y":110},{"g":"E","s":"b3","t":2.25,"y":112},{"g":"E","s":"b3","t":2.5,"y":113},{"g":"E","s":"b3","t":3,"y":108,"e":105},{"g":"E","s":"b3","t":3.5,"y":110,"e":107},{"g":"E","s":"b3","t":4,"y":108,"e":105},{"g":"E","s":"b3","t":4.5,"y":103,"e":100},{"g":"E","s":"b3","t":5,"y":100,"e":97},{"g":"E","s":"b3","t":5.5,"y":98,"e":95},{"g":"E","s":"b3","t":6,"y":96,"e":93},{"g":"E","s":"b3","t":6.5,"y":102,"e":99},{"g":"E","s":"b3","t":7,"y":103,"e":100},{"g":"E","s":"b3","t":7.5,"y":102,"e":99},{"g":"E","s":"b3","t":8,"y":102,"e":99},{"g":"E","s":"b3","t":8.5,"y":100,"e":97},{"g":"E","s":"b3","t":9,"y":103,"e":100},{"g":"E","s":"b3","t":9.5,"y":102,"e":99},{"g":"E","s":"b3","t":10,"y":107,"e":104},{"g":"E","s":"b3","t":11,"y":106,"e":103},{"g":"E","s":"b3","t":12,"y":105,"e":102},{"g":"E","s":"b3","t":13,"y":104,"e":101},{"g":"E","s":"b3","t":14,"y":103,"e":100},{"g":"E","s":"b3","t":15,"y":104,"e":101},{"g":"E","s":"b3","t":16,"y":105,"e":102},{"g":"E","s":"b3","t":17,"y":105,"e":102},{"g":"E","s":"b3","t":18,"y":106,"e":103},{"g":"E","s":"b3","t":19,"y":105,"e":102},{"g":"E","s":"b3","t":20,"y":105,"e":102},
{"g":"F","s":"y3","t":0.5,"y":45},{"g":"F","s":"y3","t":0.75,"y":50},{"g":"F","s":"y3","t":1,"y":54},{"g":"F","s":"y3","t":1.25,"y":55},{"g":"F","s":"y3","t":1.5,"y":56},{"g":"F","s":"y3","t":1.75,"y":56},{"g":"F","s":"y3","t":2,"y":56},{"g":"F","s":"y3","t":2.25,"y":55},{"g":"F","s":"y3","t":2.5,"y":55},{"g":"F","s":"y3","t":3,"y":53},{"g":"F","s":"y3","t":3.5,"y":51},{"g":"F","s":"y3","t":4,"y":50},{"g":"F","s":"y3","t":4.5,"y":48},{"g":"F","s":"y3","t":5,"y":47},{"g":"F","s":"y3","t":5.5,"y":45},{"g":"F","s":"y3","t":6,"y":43},{"g":"F","s":"y3","t":6.5,"y":42},{"g":"F","s":"y3","t":7,"y":41},{"g":"F","s":"y3","t":7.5,"y":40},{"g":"F","s":"y3","t":8,"y":39},{"g":"F","s":"y3","t":8.5,"y":39},{"g":"F","s":"y3","t":9,"y":39},{"g":"F","s":"y3","t":9.5,"y":39},{"g":"F","s":"y3","t":10,"y":40,"e":37},{"g":"F","s":"y3","t":11,"y":42,"e":39},{"g":"F","s":"y3","t":12,"y":43,"e":40},{"g":"F","s":"y3","t":13,"y":45,"e":42},{"g":"F","s":"y3","t":14,"y":45,"e":42},{"g":"F","s":"y3","t":15,"y":45,"e":42},{"g":"F","s":"y3","t":16,"y":45,"e":42},{"g":"F","s":"y3","t":17,"y":45,"e":42},{"g":"F","s":"y3","t":18,"y":45,"e":42},{"g":"F","s":"y3","t":19,"y":45,"e":42},{"g":"F","s":"y3","t":20,"y":45,"e":42},
{"g":"F","s":"b3","t":0.5,"y":50},{"g":"F","s":"b3","t":0.75,"y":80},{"g":"F","s":"b3","t":1,"y":110,"e":80},{"g":"F","s":"b3","t":1.25,"y":135,"e":105},{"g":"F","s":"b3","t":1.5,"y":148,"e":118},{"g":"F","s":"b3","t":1.75,"y":152,"e":122},{"g":"F","s":"b3","t":2,"y":154,"e":124},{"g":"F","s":"b3","t":2.25,"y":155,"e":125},{"g":"F","s":"b3","t":2.5,"y":155,"e":125},{"g":"F","s":"b3","t":3,"y":157,"e":127},{"g":"F","s":"b3","t":3.5,"y":158,"e":128},{"g":"F","s":"b3","t":4,"y":158,"e":128},{"g":"F","s":"b3","t":4.5,"y":157,"e":127},{"g":"F","s":"b3","t":5,"y":155,"e":125},{"g":"F","s":"b3","t":5.5,"y":153,"e":123},{"g":"F","s":"b3","t":6,"y":150,"e":120},{"g":"F","s":"b3","t":6.5,"y":149,"e":119},{"g":"F","s":"b3","t":7,"y":148,"e":118},{"g":"F","s":"b3","t":7.5,"y":147,"e":117},{"g":"F","s":"b3","t":8,"y":146,"e":116},{"g":"F","s":"b3","t":8.5,"y":145,"e":115},{"g":"F","s":"b3","t":9,"y":143,"e":113},{"g":"F","s":"b3","t":9.5,"y":141,"e":111},{"g":"F","s":"b3","t":10,"y":140,"e":115},{"g":"F","s":"b3","t":11,"y":137,"e":112},{"g":"F","s":"b3","t":12,"y":135,"e":110},{"g":"F","s":"b3","t":13,"y":134,"e":109},{"g":"F","s":"b3","t":14,"y":134,"e":109},{"g":"F","s":"b3","t":15,"y":133,"e":108},{"g":"F","s":"b3","t":16,"y":133,"e":108},{"g":"F","s":"b3","t":17,"y":135,"e":110},{"g":"F","s":"b3","t":18,"y":137,"e":112},{"g":"F","s":"b3","t":19,"y":140,"e":115},{"g":"F","s":"b3","t":20,"y":142,"e":117},
{"g":"G","s":"y4","t":0.5,"y":45},{"g":"G","s":"y4","t":0.75,"y":42},{"g":"G","s":"y4","t":1,"y":40},{"g":"G","s":"y4","t":1.25,"y":37},{"g":"G","s":"y4","t":1.5,"y":36},{"g":"G","s":"y4","t":1.75,"y":35},{"g":"G","s":"y4","t":2,"y":35},{"g":"G","s":"y4","t":2.25,"y":34},{"g":"G","s":"y4","t":2.5,"y":34},{"g":"G","s":"y4","t":3,"y":33},{"g":"G","s":"y4","t":3.5,"y":32},{"g":"G","s":"y4","t":4,"y":31},{"g":"G","s":"y4","t":4.5,"y":31},{"g":"G","s":"y4","t":5,"y":31},{"g":"G","s":"y4","t":5.5,"y":31},{"g":"G","s":"y4","t":6,"y":31},{"g":"G","s":"y4","t":6.5,"y":31},{"g":"G","s":"y4","t":7,"y":32},{"g":"G","s":"y4","t":7.5,"y":32},{"g":"G","s":"y4","t":8,"y":32},{"g":"G","s":"y4","t":8.5,"y":32},{"g":"G","s":"y4","t":9,"y":32},{"g":"G","s":"y4","t":9.5,"y":32},{"g":"G","s":"y4","t":10,"y":34,"e":41},{"g":"G","s":"y4","t":11,"y":36,"e":43},{"g":"G","s":"y4","t":12,"y":37,"e":44},{"g":"G","s":"y4","t":13,"y":37,"e":44},{"g":"G","s":"y4","t":14,"y":38,"e":45},{"g":"G","s":"y4","t":15,"y":40,"e":47},{"g":"G","s":"y4","t":16,"y":40,"e":47},{"g":"G","s":"y4","t":17,"y":42,"e":49},{"g":"G","s":"y4","t":18,"y":43,"e":50},{"g":"G","s":"y4","t":19,"y":43,"e":50},{"g":"G","s":"y4","t":20,"y":45,"e":52},
{"g":"G","s":"b4","t":0.5,"y":45},{"g":"G","s":"b4","t":0.75,"y":52},{"g":"G","s":"b4","t":1,"y":57},{"g":"G","s":"b4","t":1.25,"y":60},{"g":"G","s":"b4","t":1.5,"y":62},{"g":"G","s":"b4","t":1.75,"y":63},{"g":"G","s":"b4","t":2,"y":64},{"g":"G","s":"b4","t":2.25,"y":65},{"g":"G","s":"b4","t":2.5,"y":66},{"g":"G","s":"b4","t":3,"y":66,"e":62},{"g":"G","s":"b4","t":3.5,"y":64,"e":60},{"g":"G","s":"b4","t":4,"y":62,"e":58},{"g":"G","s":"b4","t":4.5,"y":61,"e":57},{"g":"G","s":"b4","t":5,"y":61,"e":57},{"g":"G","s":"b4","t":5.5,"y":61,"e":57},{"g":"G","s":"b4","t":6,"y":62,"e":58},{"g":"G","s":"b4","t":6.5,"y":63,"e":59},{"g":"G","s":"b4","t":7,"y":64,"e":60},{"g":"G","s":"b4","t":7.5,"y":65,"e":61},{"g":"G","s":"b4","t":8,"y":66,"e":62},{"g":"G","s":"b4","t":8.5,"y":66,"e":62},{"g":"G","s":"b4","t":9,"y":67,"e":63},{"g":"G","s":"b4","t":9.5,"y":67,"e":63},{"g":"G","s":"b4","t":10,"y":68,"e":64},{"g":"G","s":"b4","t":11,"y":70,"e":66},{"g":"G","s":"b4","t":12,"y":72,"e":68},{"g":"G","s":"b4","t":13,"y":80,"e":76},{"g":"G","s":"b4","t":14,"y":84,"e":80},{"g":"G","s":"b4","t":15,"y":85,"e":81},{"g":"G","s":"b4","t":16,"y":85,"e":81},{"g":"G","s":"b4","t":17,"y":86,"e":82},{"g":"G","s":"b4","t":18,"y":86,"e":82},{"g":"G","s":"b4","t":19,"y":86,"e":82},{"g":"G","s":"b4","t":20,"y":86,"e":82},
{"g":"H","s":"y4","t":0.5,"y":45},{"g":"H","s":"y4","t":0.75,"y":47},{"g":"H","s":"y4","t":1,"y":49},{"g":"H","s":"y4","t":1.25,"y":50},{"g":"H","s":"y4","t":1.5,"y":51},{"g":"H","s":"y4","t":1.75,"y":51},{"g":"H","s":"y4","t":2,"y":51},{"g":"H","s":"y4","t":2.25,"y":51},{"g":"H","s":"y4","t":2.5,"y":51},{"g":"H","s":"y4","t":3,"y":50},{"g":"H","s":"y4","t":3.5,"y":50},{"g":"H","s":"y4","t":4,"y":50},{"g":"H","s":"y4","t":4.5,"y":49},{"g":"H","s":"y4","t":5,"y":49},{"g":"H","s":"y4","t":5.5,"y":48},{"g":"H","s":"y4","t":6,"y":48},{"g":"H","s":"y4","t":6.5,"y":48},{"g":"H","s":"y4","t":7,"y":48},{"g":"H","s":"y4","t":7.5,"y":48},{"g":"H","s":"y4","t":8,"y":48},{"g":"H","s":"y4","t":8.5,"y":48},{"g":"H","s":"y4","t":9,"y":48},{"g":"H","s":"y4","t":9.5,"y":48},{"g":"H","s":"y4","t":10,"y":49,"e":45},{"g":"H","s":"y4","t":11,"y":48,"e":44},{"g":"H","s":"y4","t":12,"y":48,"e":44},{"g":"H","s":"y4","t":13,"y":48,"e":44},{"g":"H","s":"y4","t":14,"y":48,"e":44},{"g":"H","s":"y4","t":15,"y":49,"e":45},{"g":"H","s":"y4","t":16,"y":49,"e":45},{"g":"H","s":"y4","t":17,"y":49,"e":45},{"g":"H","s":"y4","t":18,"y":50,"e":46},{"g":"H","s":"y4","t":19,"y":52,"e":48},{"g":"H","s":"y4","t":20,"y":54,"e":50},
{"g":"H","s":"b4","t":0.5,"y":45},{"g":"H","s":"b4","t":0.75,"y":70},{"g":"H","s":"b4","t":1,"y":100,"e":70},{"g":"H","s":"b4","t":1.25,"y":118,"e":88},{"g":"H","s":"b4","t":1.5,"y":120,"e":90},{"g":"H","s":"b4","t":1.75,"y":115,"e":85},{"g":"H","s":"b4","t":2,"y":110,"e":80},{"g":"H","s":"b4","t":2.25,"y":105,"e":75},{"g":"H","s":"b4","t":2.5,"y":102,"e":72},{"g":"H","s":"b4","t":3,"y":100,"e":68},{"g":"H","s":"b4","t":3.5,"y":98,"e":66},{"g":"H","s":"b4","t":4,"y":95,"e":63},{"g":"H","s":"b4","t":4.5,"y":94,"e":62},{"g":"H","s":"b4","t":5,"y":94,"e":62},{"g":"H","s":"b4","t":5.5,"y":95,"e":63},{"g":"H","s":"b4","t":6,"y":96,"e":64},{"g":"H","s":"b4","t":6.5,"y":97,"e":65},{"g":"H","s":"b4","t":7,"y":97,"e":65},{"g":"H","s":"b4","t":7.5,"y":96,"e":64},{"g":"H","s":"b4","t":8,"y":96,"e":64},{"g":"H","s":"b4","t":8.5,"y":96,"e":64},{"g":"H","s":"b4","t":9,"y":97,"e":65},{"g":"H","s":"b4","t":9.5,"y":99,"e":67},{"g":"H","s":"b4","t":10,"y":105,"e":85},{"g":"H","s":"b4","t":11,"y":102,"e":82},{"g":"H","s":"b4","t":12,"y":101,"e":81},{"g":"H","s":"b4","t":13,"y":100,"e":80},{"g":"H","s":"b4","t":14,"y":100,"e":80},{"g":"H","s":"b4","t":15,"y":99,"e":79},{"g":"H","s":"b4","t":16,"y":99,"e":79},{"g":"H","s":"b4","t":17,"y":96,"e":76},{"g":"H","s":"b4","t":18,"y":95,"e":75},{"g":"H","s":"b4","t":19,"y":95,"e":75},{"g":"H","s":"b4","t":20,"y":94,"e":74}
]},
"data":{"name":"d"},
"columns":2,
"spacing":{"row":36,"column":70},
"bounds":"flush",
"resolve":{"scale":{"color":"independent"}},
"concat":[
 {"width":175,"height":177,"title":{"text":"A"},"resolve":{"scale":{"x":"independent","y":"independent"}},
  "transform":[{"filter":{"field":"g","oneOf":["A"]}},{"lookup":"s","from":{"data":{"name":"names"},"key":"s","fields":["n"]}}],
  "layer":[
   {"data":{"values":[{"t":0.5}]},"mark":{"type":"rule","color":"#999","strokeDash":[3,2],"strokeWidth":1},"encoding":{"x":{"field":"t","type":"quantitative","scale":{"domain":[0,20]},"axis":{"orient":"top","domain":false,"ticks":false,"labels":false,"title":"Immature OLs","titleFontSize":12,"titleX":97,"titleY":4,"titleAlign":"center","titleBaseline":"alphabetic"}}}},
   {"transform":[{"filter":{"field":"e","valid":true}}],"mark":{"type":"errorbar","ticks":true,"size":5,"thickness":1,"color":"#333"},"encoding":{"x":{"field":"t","type":"quantitative","scale":{"domain":[0,20]},"axis":null},"y":{"field":"y","type":"quantitative","scale":{"domain":[0,250],"nice":false},"axis":null},"y2":{"field":"e"}}},
   {"mark":{"type":"line","color":"#222","strokeWidth":0.8},"encoding":{"x":{"field":"t","type":"quantitative","scale":{"domain":[0,20]},"axis":null},"y":{"field":"y","type":"quantitative","scale":{"domain":[0,250],"nice":false},"axis":null},"detail":{"field":"s"}}},
   {"mark":{"type":"point","shape":"diamond","filled":true,"size":45,"stroke":"#000","strokeWidth":0.7,"opacity":1},"encoding":{"x":{"field":"t","type":"quantitative","scale":{"domain":[0,20]},"axis":{"orient":"bottom","values":[1,2,3,4,5,10,15,20],"title":"Time (min)","titleFontSize":11,"tickSize":3,"labelPadding":1,"titlePadding":0,"labelFlush":false}},"y":{"field":"y","type":"quantitative","scale":{"domain":[0,250],"nice":false},"axis":{"title":"[Intracellular Calcium] nM","values":[0,10,20,30,40,50,60,70,80,90,100,110,120,130,140,150,160,170,180,190,200,210,220,230,240,250],"labelExpr":"datum.value % 50 === 0 ? datum.label : ''","tickSize":{"condition":{"test":"datum.value % 50 === 0","value":4},"value":2},"labelPadding":1,"titlePadding":0}},"color":{"field":"n","type":"nominal","scale":{"domain":["Control","50µM NMDA","300µM NMDA","50µM AMPA","300µM AMPA"],"range":["#ffffff","#33cccc","#10109f","#eeee22","#b5835a"]},"legend":null}}},
   {"data":{"values":[{"t":21.7,"y":123,"txt":"*"}]},"mark":{"type":"text","align":"left","baseline":"middle","fontSize":13,"color":"#333"},"encoding":{"x":{"field":"t","type":"quantitative","scale":{"domain":[0,20]},"axis":null},"y":{"field":"y","type":"quantitative","scale":{"domain":[0,250],"nice":false},"axis":null},"text":{"field":"txt"}}},
   {"data":{"values":[{"t":20.8,"y":130,"txt":"}"}]},"mark":{"type":"text","align":"left","baseline":"middle","fontSize":22,"color":"#111"},"encoding":{"x":{"field":"t","type":"quantitative","scale":{"domain":[0,20]},"axis":null},"y":{"field":"y","type":"quantitative","scale":{"domain":[0,250],"nice":false},"axis":null},"text":{"field":"txt"}}}
  ]},
 {"width":175,"height":177,"title":{"text":"B"},"resolve":{"scale":{"x":"independent","y":"independent"}},
  "transform":[{"filter":{"field":"g","oneOf":["B"]}},{"lookup":"s","from":{"data":{"name":"names"},"key":"s","fields":["n"]}}],
  "layer":[
   {"data":{"values":[{"t":0.5}]},"mark":{"type":"rule","color":"#999","strokeDash":[3,2],"strokeWidth":1},"encoding":{"x":{"field":"t","type":"quantitative","scale":{"domain":[0,20]},"axis":{"orient":"top","domain":false,"ticks":false,"labels":false,"title":"Mature OLs","titleFontSize":12,"titleX":95,"titleY":4,"titleAlign":"center","titleBaseline":"alphabetic"}}}},
   {"transform":[{"filter":{"field":"e","valid":true}}],"mark":{"type":"errorbar","ticks":true,"size":5,"thickness":1,"color":"#333"},"encoding":{"x":{"field":"t","type":"quantitative","scale":{"domain":[0,20]},"axis":null},"y":{"field":"y","type":"quantitative","scale":{"domain":[0,250],"nice":false},"axis":null},"y2":{"field":"e"}}},
   {"mark":{"type":"line","color":"#222","strokeWidth":0.8},"encoding":{"x":{"field":"t","type":"quantitative","scale":{"domain":[0,20]},"axis":null},"y":{"field":"y","type":"quantitative","scale":{"domain":[0,250],"nice":false},"axis":null},"detail":{"field":"s"}}},
   {"mark":{"type":"point","shape":"diamond","filled":true,"size":45,"stroke":"#000","strokeWidth":0.7,"opacity":1},"encoding":{"x":{"field":"t","type":"quantitative","scale":{"domain":[0,20]},"axis":{"orient":"bottom","values":[1,2,3,4,5,10,15,20],"title":"Time (min)","titleFontSize":11,"tickSize":3,"labelPadding":1,"titlePadding":0,"labelFlush":false}},"y":{"field":"y","type":"quantitative","scale":{"domain":[0,250],"nice":false},"axis":{"title":"[Intracellular Calcium] nM","values":[0,10,20,30,40,50,60,70,80,90,100,110,120,130,140,150,160,170,180,190,200,210,220,230,240,250],"labelExpr":"datum.value % 50 === 0 ? datum.label : ''","tickSize":{"condition":{"test":"datum.value % 50 === 0","value":4},"value":2},"labelPadding":1,"titlePadding":0}},"color":{"field":"n","type":"nominal","scale":{"domain":["Control","50µM NMDA","300µM NMDA","50µM AMPA","300µM AMPA"],"range":["#ffffff","#33cccc","#10109f","#eeee22","#b5835a"]},"legend":{"orient":"none","legendX":202,"legendY":35,"title":null,"symbolType":"diamond","symbolSize":64,"symbolStrokeColor":"#000","symbolStrokeWidth":1,"symbolOpacity":1,"labelFontSize":11.5,"labelFont":"Liberation Sans","labelColor":"#000","rowPadding":6,"labelOffset":4,"labelLimit":300}}}},
   {"data":{"values":[{"t":20.7,"y":201,"txt":"*"},{"t":20.3,"y":62,"txt":"}*"}]},"mark":{"type":"text","align":"left","baseline":"middle","fontSize":13,"color":"#333"},"encoding":{"x":{"field":"t","type":"quantitative","scale":{"domain":[0,20]},"axis":null},"y":{"field":"y","type":"quantitative","scale":{"domain":[0,250],"nice":false},"axis":null},"text":{"field":"txt"}}}
  ]},
 {"width":175,"height":177,"title":{"text":"C"},"resolve":{"scale":{"x":"independent","y":"independent"}},
  "transform":[{"filter":{"field":"g","oneOf":["L","C"]}},{"lookup":"s","from":{"data":{"name":"names"},"key":"s","fields":["n"]}}],
  "layer":[
   {"data":{"values":[{"t":0.5}]},"mark":{"type":"rule","color":"#999","strokeDash":[3,2],"strokeWidth":1},"encoding":{"x":{"field":"t","type":"quantitative","scale":{"domain":[0,20]},"axis":null}}},
   {"transform":[{"filter":{"field":"e","valid":true}}],"mark":{"type":"errorbar","ticks":true,"size":5,"thickness":1,"color":"#333"},"encoding":{"x":{"field":"t","type":"quantitative","scale":{"domain":[0,20]},"axis":null},"y":{"field":"y","type":"quantitative","scale":{"domain":[0,250],"nice":false},"axis":null},"y2":{"field":"e"}}},
   {"mark":{"type":"line","color":"#222","strokeWidth":0.8},"encoding":{"x":{"field":"t","type":"quantitative","scale":{"domain":[0,20]},"axis":null},"y":{"field":"y","type":"quantitative","scale":{"domain":[0,250],"nice":false},"axis":null},"detail":{"field":"s"}}},
   {"mark":{"type":"point","shape":"diamond","filled":true,"size":45,"stroke":"#000","strokeWidth":0.7,"opacity":1},"encoding":{"x":{"field":"t","type":"quantitative","scale":{"domain":[0,20]},"axis":{"orient":"bottom","values":[1,2,3,4,5,10,15,20],"title":"Time (min)","titleFontSize":11,"tickSize":3,"labelPadding":1,"titlePadding":0,"labelFlush":false}},"y":{"field":"y","type":"quantitative","scale":{"domain":[0,250],"nice":false},"axis":{"title":"[Intracellular Calcium] nM","values":[0,10,20,30,40,50,60,70,80,90,100,110,120,130,140,150,160,170,180,190,200,210,220,230,240,250],"labelExpr":"datum.value % 50 === 0 ? datum.label : ''","tickSize":{"condition":{"test":"datum.value % 50 === 0","value":4},"value":2},"labelPadding":1,"titlePadding":0}},"color":{"field":"n","type":"nominal","scale":{"domain":["Control","Tat 1-86 10nM","Tat 1-86 100nM","10nM Tat + 20µM MK801","100nM Tat + 20µM MK801"],"range":["#ffffff","#1f8a2a","#c8102e","#eeee22","#a8754a"]},"legend":null}}},
   {"data":{"values":[{"t":20.8,"y":153,"txt":"*"},{"t":20.7,"y":95,"txt":"}*#"}]},"mark":{"type":"text","align":"left","baseline":"middle","fontSize":13,"color":"#333"},"encoding":{"x":{"field":"t","type":"quantitative","scale":{"domain":[0,20]},"axis":null},"y":{"field":"y","type":"quantitative","scale":{"domain":[0,250],"nice":false},"axis":null},"text":{"field":"txt"}}}
  ]},
 {"width":175,"height":177,"title":{"text":"D"},"resolve":{"scale":{"x":"independent","y":"independent"}},
  "transform":[{"filter":{"field":"g","oneOf":["R","D"]}},{"lookup":"s","from":{"data":{"name":"names"},"key":"s","fields":["n"]}}],
  "layer":[
   {"data":{"values":[{"t":0.5}]},"mark":{"type":"rule","color":"#999","strokeDash":[3,2],"strokeWidth":1},"encoding":{"x":{"field":"t","type":"quantitative","scale":{"domain":[0,20]},"axis":null}}},
   {"transform":[{"filter":{"field":"e","valid":true}}],"mark":{"type":"errorbar","ticks":true,"size":5,"thickness":1,"color":"#333"},"encoding":{"x":{"field":"t","type":"quantitative","scale":{"domain":[0,20]},"axis":null},"y":{"field":"y","type":"quantitative","scale":{"domain":[0,250],"nice":false},"axis":null},"y2":{"field":"e"}}},
   {"mark":{"type":"line","color":"#222","strokeWidth":0.8},"encoding":{"x":{"field":"t","type":"quantitative","scale":{"domain":[0,20]},"axis":null},"y":{"field":"y","type":"quantitative","scale":{"domain":[0,250],"nice":false},"axis":null},"detail":{"field":"s"}}},
   {"mark":{"type":"point","shape":"diamond","filled":true,"size":45,"stroke":"#000","strokeWidth":0.7,"opacity":1},"encoding":{"x":{"field":"t","type":"quantitative","scale":{"domain":[0,20]},"axis":{"orient":"bottom","values":[1,2,3,4,5,10,15,20],"title":"Time (min)","titleFontSize":11,"tickSize":3,"labelPadding":1,"titlePadding":0,"labelFlush":false}},"y":{"field":"y","type":"quantitative","scale":{"domain":[0,250],"nice":false},"axis":{"title":"[Intracellular Calcium] nM","values":[0,10,20,30,40,50,60,70,80,90,100,110,120,130,140,150,160,170,180,190,200,210,220,230,240,250],"labelExpr":"datum.value % 50 === 0 ? datum.label : ''","tickSize":{"condition":{"test":"datum.value % 50 === 0","value":4},"value":2},"labelPadding":1,"titlePadding":0}},"color":{"field":"n","type":"nominal","scale":{"domain":["Control","Tat 1-86 10nM","Tat 1-86 100nM","10nM Tat + 20µM MK801","100nM Tat + 20µM MK801"],"range":["#ffffff","#1f8a2a","#c8102e","#eeee22","#a8754a"]},"legend":{"orient":"none","legendX":202,"legendY":33,"title":null,"symbolType":"diamond","symbolSize":64,"symbolStrokeColor":"#000","symbolStrokeWidth":1,"symbolOpacity":1,"labelFontSize":11.5,"labelFont":"Liberation Sans","labelColor":"#000","rowPadding":6,"labelOffset":4,"labelLimit":300}}}},
   {"data":{"values":[{"t":20.7,"y":222,"txt":"*"},{"t":22.1,"y":120,"txt":"*#"}]},"mark":{"type":"text","align":"left","baseline":"middle","fontSize":13,"color":"#333"},"encoding":{"x":{"field":"t","type":"quantitative","scale":{"domain":[0,20]},"axis":null},"y":{"field":"y","type":"quantitative","scale":{"domain":[0,250],"nice":false},"axis":null},"text":{"field":"txt"}}},
   {"data":{"values":[{"t":20.9,"y":126,"txt":"}"}]},"mark":{"type":"text","align":"left","baseline":"middle","fontSize":32,"color":"#111"},"encoding":{"x":{"field":"t","type":"quantitative","scale":{"domain":[0,20]},"axis":null},"y":{"field":"y","type":"quantitative","scale":{"domain":[0,250],"nice":false},"axis":null},"text":{"field":"txt"}}}
  ]},
 {"width":175,"height":177,"title":{"text":"E"},"resolve":{"scale":{"x":"independent","y":"independent"}},
  "transform":[{"filter":{"field":"g","oneOf":["L","E"]}},{"lookup":"s","from":{"data":{"name":"names"},"key":"s","fields":["n"]}}],
  "layer":[
   {"data":{"values":[{"t":0.5}]},"mark":{"type":"rule","color":"#999","strokeDash":[3,2],"strokeWidth":1},"encoding":{"x":{"field":"t","type":"quantitative","scale":{"domain":[0,20]},"axis":null}}},
   {"transform":[{"filter":{"field":"e","valid":true}}],"mark":{"type":"errorbar","ticks":true,"size":5,"thickness":1,"color":"#333"},"encoding":{"x":{"field":"t","type":"quantitative","scale":{"domain":[0,20]},"axis":null},"y":{"field":"y","type":"quantitative","scale":{"domain":[0,250],"nice":false},"axis":null},"y2":{"field":"e"}}},
   {"mark":{"type":"line","color":"#222","strokeWidth":0.8},"encoding":{"x":{"field":"t","type":"quantitative","scale":{"domain":[0,20]},"axis":null},"y":{"field":"y","type":"quantitative","scale":{"domain":[0,250],"nice":false},"axis":null},"detail":{"field":"s"}}},
   {"mark":{"type":"point","shape":"diamond","filled":true,"size":45,"stroke":"#000","strokeWidth":0.7,"opacity":1},"encoding":{"x":{"field":"t","type":"quantitative","scale":{"domain":[0,20]},"axis":{"orient":"bottom","values":[1,2,3,4,5,10,15,20],"title":"Time (min)","titleFontSize":11,"tickSize":3,"labelPadding":1,"titlePadding":0,"labelFlush":false}},"y":{"field":"y","type":"quantitative","scale":{"domain":[0,250],"nice":false},"axis":{"title":"[Intracellular Calcium] nM","values":[0,10,20,30,40,50,60,70,80,90,100,110,120,130,140,150,160,170,180,190,200,210,220,230,240,250],"labelExpr":"datum.value % 50 === 0 ? datum.label : ''","tickSize":{"condition":{"test":"datum.value % 50 === 0","value":4},"value":2},"labelPadding":1,"titlePadding":0}},"color":{"field":"n","type":"nominal","scale":{"domain":["Control","Tat 1-86 10nM","Tat 1-86 100nM","10nM Tat + 20µM CNQX","100nM Tat + 20µM CNQX"],"range":["#ffffff","#1f8a2a","#c8102e","#eeee22","#a8754a"]},"legend":null}}},
   {"data":{"values":[{"t":20.8,"y":154,"txt":"*"},{"t":20.7,"y":103,"txt":"}*#"}]},"mark":{"type":"text","align":"left","baseline":"middle","fontSize":13,"color":"#333"},"encoding":{"x":{"field":"t","type":"quantitative","scale":{"domain":[0,20]},"axis":null},"y":{"field":"y","type":"quantitative","scale":{"domain":[0,250],"nice":false},"axis":null},"text":{"field":"txt"}}}
  ]},
 {"width":175,"height":177,"title":{"text":"F"},"resolve":{"scale":{"x":"independent","y":"independent"}},
  "transform":[{"filter":{"field":"g","oneOf":["R","F"]}},{"lookup":"s","from":{"data":{"name":"names"},"key":"s","fields":["n"]}}],
  "layer":[
   {"data":{"values":[{"t":0.5}]},"mark":{"type":"rule","color":"#999","strokeDash":[3,2],"strokeWidth":1},"encoding":{"x":{"field":"t","type":"quantitative","scale":{"domain":[0,20]},"axis":null}}},
   {"transform":[{"filter":{"field":"e","valid":true}}],"mark":{"type":"errorbar","ticks":true,"size":5,"thickness":1,"color":"#333"},"encoding":{"x":{"field":"t","type":"quantitative","scale":{"domain":[0,20]},"axis":null},"y":{"field":"y","type":"quantitative","scale":{"domain":[0,250],"nice":false},"axis":null},"y2":{"field":"e"}}},
   {"mark":{"type":"line","color":"#222","strokeWidth":0.8},"encoding":{"x":{"field":"t","type":"quantitative","scale":{"domain":[0,20]},"axis":null},"y":{"field":"y","type":"quantitative","scale":{"domain":[0,250],"nice":false},"axis":null},"detail":{"field":"s"}}},
   {"mark":{"type":"point","shape":"diamond","filled":true,"size":45,"stroke":"#000","strokeWidth":0.7,"opacity":1},"encoding":{"x":{"field":"t","type":"quantitative","scale":{"domain":[0,20]},"axis":{"orient":"bottom","values":[1,2,3,4,5,10,15,20],"title":"Time (min)","titleFontSize":11,"tickSize":3,"labelPadding":1,"titlePadding":0,"labelFlush":false}},"y":{"field":"y","type":"quantitative","scale":{"domain":[0,250],"nice":false},"axis":{"title":"[Intracellular Calcium] nM","values":[0,10,20,30,40,50,60,70,80,90,100,110,120,130,140,150,160,170,180,190,200,210,220,230,240,250],"labelExpr":"datum.value % 50 === 0 ? datum.label : ''","tickSize":{"condition":{"test":"datum.value % 50 === 0","value":4},"value":2},"labelPadding":1,"titlePadding":0}},"color":{"field":"n","type":"nominal","scale":{"domain":["Control","Tat 1-86 10nM","Tat 1-86 100nM","10nM Tat + 20µM CNQX","100nM Tat + 20µM CNQX"],"range":["#ffffff","#1f8a2a","#c8102e","#eeee22","#a8754a"]},"legend":{"orient":"none","legendX":202,"legendY":32,"title":null,"symbolType":"diamond","symbolSize":64,"symbolStrokeColor":"#000","symbolStrokeWidth":1,"symbolOpacity":1,"labelFontSize":11.5,"labelFont":"Liberation Sans","labelColor":"#000","rowPadding":6,"labelOffset":4,"labelLimit":300}}}},
   {"data":{"values":[{"t":20.7,"y":222,"txt":"*"},{"t":20.4,"y":146,"txt":"}*#"}]},"mark":{"type":"text","align":"left","baseline":"middle","fontSize":13,"color":"#333"},"encoding":{"x":{"field":"t","type":"quantitative","scale":{"domain":[0,20]},"axis":null},"y":{"field":"y","type":"quantitative","scale":{"domain":[0,250],"nice":false},"axis":null},"text":{"field":"txt"}}}
  ]},
 {"width":175,"height":177,"title":{"text":"G"},"resolve":{"scale":{"x":"independent","y":"independent"}},
  "transform":[{"filter":{"field":"g","oneOf":["L","G"]}},{"lookup":"s","from":{"data":{"name":"names"},"key":"s","fields":["n"]}}],
  "layer":[
   {"data":{"values":[{"t":0.5}]},"mark":{"type":"rule","color":"#999","strokeDash":[3,2],"strokeWidth":1},"encoding":{"x":{"field":"t","type":"quantitative","scale":{"domain":[0,20]},"axis":null}}},
   {"transform":[{"filter":{"field":"e","valid":true}}],"mark":{"type":"errorbar","ticks":true,"size":5,"thickness":1,"color":"#333"},"encoding":{"x":{"field":"t","type":"quantitative","scale":{"domain":[0,20]},"axis":null},"y":{"field":"y","type":"quantitative","scale":{"domain":[0,250],"nice":false},"axis":null},"y2":{"field":"e"}}},
   {"mark":{"type":"line","color":"#222","strokeWidth":0.8},"encoding":{"x":{"field":"t","type":"quantitative","scale":{"domain":[0,20]},"axis":null},"y":{"field":"y","type":"quantitative","scale":{"domain":[0,250],"nice":false},"axis":null},"detail":{"field":"s"}}},
   {"mark":{"type":"point","shape":"diamond","filled":true,"size":45,"stroke":"#000","strokeWidth":0.7,"opacity":1},"encoding":{"x":{"field":"t","type":"quantitative","scale":{"domain":[0,20]},"axis":{"orient":"bottom","values":[1,2,3,4,5,10,15,20],"title":"Time (min)","titleFontSize":11,"tickSize":3,"labelPadding":1,"titlePadding":0,"labelFlush":false}},"y":{"field":"y","type":"quantitative","scale":{"domain":[0,250],"nice":false},"axis":{"title":"[Intracellular Calcium] nM","values":[0,10,20,30,40,50,60,70,80,90,100,110,120,130,140,150,160,170,180,190,200,210,220,230,240,250],"labelExpr":"datum.value % 50 === 0 ? datum.label : ''","tickSize":{"condition":{"test":"datum.value % 50 === 0","value":4},"value":2},"labelPadding":1,"titlePadding":0}},"color":{"field":"n","type":"nominal","scale":{"domain":["Control","Tat 1-86 10nM","Tat 1-86 100nM","10nM Tat + 20µM MK801 & CNQX","100nM Tat + 20µM MK801 & CNQX"],"range":["#ffffff","#1f8a2a","#c8102e","#eeee22","#a8754a"]},"legend":null}}},
   {"data":{"values":[{"t":20.8,"y":154,"txt":"*"},{"t":20.7,"y":95,"txt":"}*#"}]},"mark":{"type":"text","align":"left","baseline":"middle","fontSize":13,"color":"#333"},"encoding":{"x":{"field":"t","type":"quantitative","scale":{"domain":[0,20]},"axis":null},"y":{"field":"y","type":"quantitative","scale":{"domain":[0,250],"nice":false},"axis":null},"text":{"field":"txt"}}}
  ]},
 {"width":175,"height":177,"title":{"text":"H"},"resolve":{"scale":{"x":"independent","y":"independent"}},
  "transform":[{"filter":{"field":"g","oneOf":["R","H"]}},{"lookup":"s","from":{"data":{"name":"names"},"key":"s","fields":["n"]}}],
  "layer":[
   {"data":{"values":[{"t":0.5}]},"mark":{"type":"rule","color":"#999","strokeDash":[3,2],"strokeWidth":1},"encoding":{"x":{"field":"t","type":"quantitative","scale":{"domain":[0,20]},"axis":null}}},
   {"transform":[{"filter":{"field":"e","valid":true}}],"mark":{"type":"errorbar","ticks":true,"size":5,"thickness":1,"color":"#333"},"encoding":{"x":{"field":"t","type":"quantitative","scale":{"domain":[0,20]},"axis":null},"y":{"field":"y","type":"quantitative","scale":{"domain":[0,250],"nice":false},"axis":null},"y2":{"field":"e"}}},
   {"mark":{"type":"line","color":"#222","strokeWidth":0.8},"encoding":{"x":{"field":"t","type":"quantitative","scale":{"domain":[0,20]},"axis":null},"y":{"field":"y","type":"quantitative","scale":{"domain":[0,250],"nice":false},"axis":null},"detail":{"field":"s"}}},
   {"mark":{"type":"point","shape":"diamond","filled":true,"size":45,"stroke":"#000","strokeWidth":0.7,"opacity":1},"encoding":{"x":{"field":"t","type":"quantitative","scale":{"domain":[0,20]},"axis":{"orient":"bottom","values":[1,2,3,4,5,10,15,20],"title":"Time (min)","titleFontSize":11,"tickSize":3,"labelPadding":1,"titlePadding":0,"labelFlush":false}},"y":{"field":"y","type":"quantitative","scale":{"domain":[0,250],"nice":false},"axis":{"title":"[Intracellular Calcium] nM","values":[0,10,20,30,40,50,60,70,80,90,100,110,120,130,140,150,160,170,180,190,200,210,220,230,240,250],"labelExpr":"datum.value % 50 === 0 ? datum.label : ''","tickSize":{"condition":{"test":"datum.value % 50 === 0","value":4},"value":2},"labelPadding":1,"titlePadding":0}},"color":{"field":"n","type":"nominal","scale":{"domain":["Control","Tat 1-86 10nM","Tat 1-86 100nM","10nM Tat + 20µM MK801 & CNQX","100nM Tat + 20µM MK801 & CNQX"],"range":["#ffffff","#1f8a2a","#c8102e","#eeee22","#a8754a"]},"legend":{"orient":"none","legendX":202,"legendY":35,"title":null,"symbolType":"diamond","symbolSize":64,"symbolStrokeColor":"#000","symbolStrokeWidth":1,"symbolOpacity":1,"labelFontSize":11.5,"labelFont":"Liberation Sans","labelColor":"#000","rowPadding":6,"labelOffset":4,"labelLimit":300}}}},
   {"data":{"values":[{"t":20.7,"y":222,"txt":"*"},{"t":22.1,"y":120,"txt":"*#"}]},"mark":{"type":"text","align":"left","baseline":"middle","fontSize":13,"color":"#333"},"encoding":{"x":{"field":"t","type":"quantitative","scale":{"domain":[0,20]},"axis":null},"y":{"field":"y","type":"quantitative","scale":{"domain":[0,250],"nice":false},"axis":null},"text":{"field":"txt"}}},
   {"data":{"values":[{"t":20.9,"y":124,"txt":"}"}]},"mark":{"type":"text","align":"left","baseline":"middle","fontSize":32,"color":"#111"},"encoding":{"x":{"field":"t","type":"quantitative","scale":{"domain":[0,20]},"axis":null},"y":{"field":"y","type":"quantitative","scale":{"domain":[0,250],"nice":false},"axis":null},"text":{"field":"txt"}}}
  ]}
]
}
